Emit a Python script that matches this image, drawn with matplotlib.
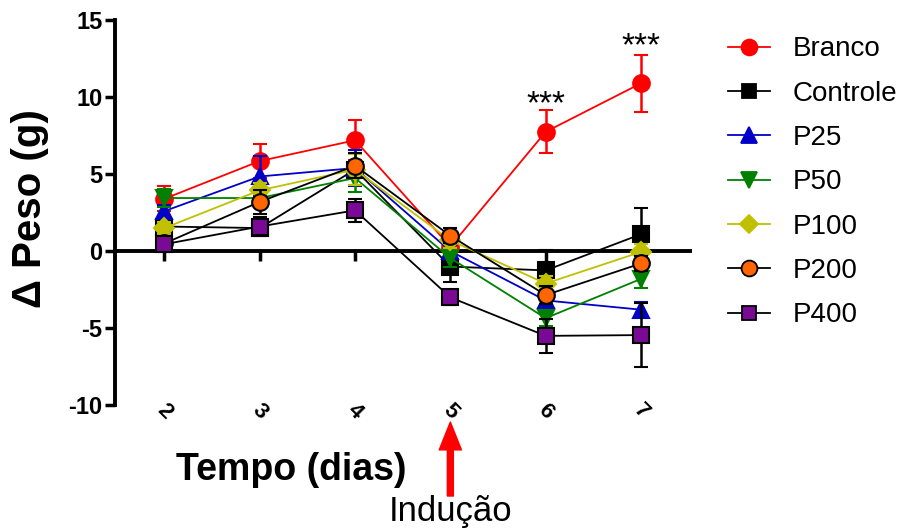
import matplotlib
matplotlib.use("Agg")
import matplotlib.pyplot as plt
from matplotlib.lines import Line2D

plt.rcParams['font.family'] = ['Liberation Sans', 'DejaVu Sans']
plt.rcParams['axes.unicode_minus'] = False

dias = [2, 3, 4, 5, 6, 7]
grupos = ["Branco", "Controle", "P25", "P50", "P100", "P200", "P400"]

branco = [3.4, 5.85, 7.2, 0.3, 7.75, 10.9]
controle = [1.6, 1.5, 5.3, -1.0, -1.25, 1.1]
p25 = [2.6, 4.85, 5.4, 0.0, -3.2, -3.8]
p50 = [3.45, 3.45, 4.75, -0.45, -4.35, -1.8]
p100 = [1.5, 3.95, 5.3, 0.7, -2.1, -0.05]
p200 = [0.5, 3.2, 5.55, 1.0, -2.85, -0.8]
p400 = [0.45, 1.6, 2.65, -3.0, -5.5, -5.45]

err_branco = [0.8, 1.1, 1.3, 0.3, 1.4, 1.85]
err_controle = [0.5, 0.4, 0.5, 1.0, 1.3, 1.7]
err_p25 = [0.4, 1.3, 1.2, 0.4, 0.5, 0.5]
err_p50 = [0.6, 0.5, 0.9, 0.6, 0.5, 0.6]
err_p100 = [0.4, 0.5, 1.0, 0.5, 0.5, 0.5]
err_p200 = [0.5, 0.8, 0.8, 0.5, 0.6, 0.5]
err_p400 = [0.5, 0.6, 0.75, 0.5, 1.1, 2.1]

medias = [branco, controle, p25, p50, p100, p200, p400]
erros = [err_branco, err_controle, err_p25, err_p50, err_p100, err_p200, err_p400]

# estilo de cada grupo: cor da linha, marcador, cor do marcador, borda, tamanho
estilos = [
    ("#FF0000", "o", "#FF0000", "#FF0000", 12),
    ("#000000", "s", "#000000", "#000000", 11),
    ("#0000C8", "^", "#0000C8", "#0000C8", 12),
    ("#008000", "v", "#008000", "#008000", 12),
    ("#C0C000", "D", "#C0C000", "#C0C000", 10),
    ("#000000", "o", "#FF6600", "#000000", 12),
    ("#000000", "s", "#7A0A96", "#000000", 11),
]

fig = plt.figure(figsize=(9.11, 5.31), dpi=100)
ax = fig.add_axes([0.126, 0.237, 0.631, 0.725])

handles = []
for i, nome in enumerate(grupos):
    cor, mk, fc, ec, ms = estilos[i]
    ax.errorbar(dias, medias[i], yerr=erros[i], color=cor, marker=mk,
                markerfacecolor=fc, markeredgecolor=ec, markeredgewidth=1.5,
                markersize=ms, lw=1.3, elinewidth=1.8, capsize=5, capthick=1.8,
                ecolor=cor, zorder=3 + i)
    handles.append(Line2D([], [], color=cor, marker=mk, markerfacecolor=fc,
                          markeredgecolor=ec, markeredgewidth=1.3,
                          markersize=ms * 0.95, lw=1.3, label=nome))

ax.set_xlim(1.48, 7.51)
ax.set_ylim(-10, 15)
ax.set_yticks([-10, -5, 0, 5, 10, 15])
ax.set_xticks(dias)

for s in ["top", "right"]:
    ax.spines[s].set_visible(False)
ax.spines["left"].set_linewidth(2.8)
ax.spines["bottom"].set_linewidth(2.8)
ax.spines["bottom"].set_position(("data", 0))
ax.spines["bottom"].set_zorder(2)

ax.tick_params(axis="y", width=2.5, length=7, labelsize=17, pad=2)
ax.tick_params(axis="x", width=2.5, length=7, labelbottom=False)
for t in ax.get_yticklabels():
    t.set_fontweight("bold")

sec = ax.secondary_xaxis("bottom")
sec.set_xticks(dias)
sec.spines["bottom"].set_visible(False)
sec.tick_params(axis="x", length=0, pad=-4, labelsize=16)
for t in sec.get_xticklabels():
    t.set_rotation(-45)
    t.set_fontweight("bold")
    t.set_ha("center")
    t.set_va("top")

ax.set_ylabel("Δ Peso (g)", fontsize=29, fontweight="bold")
ax.yaxis.set_label_coords(-0.115, 0.51)
fig.text(0.32, 0.115, "Tempo (dias)", fontsize=27, fontweight="bold",
         ha="center", va="center")

ax.text(6, 9.5, "***", fontsize=24, ha="center", va="center")
ax.text(7, 13.3, "***", fontsize=24, ha="center", va="center")

ax.annotate("", xy=(5, -11.1), xytext=(5, -15.9),
            arrowprops=dict(facecolor="#FF0000", edgecolor="#FF0000",
                            width=4.3, headwidth=16, headlength=20),
            annotation_clip=False)
ax.text(5, -16.9, "Indução", fontsize=25, ha="center", va="center",
        clip_on=False)

ax.legend(handles=handles, loc="upper left", bbox_to_anchor=(0.785, 0.955),
          bbox_transform=fig.transFigure, frameon=False, fontsize=20,
          handlelength=1.51, labelspacing=0.66, handletextpad=0.83,
          borderaxespad=0, borderpad=0.45)

fig.savefig("out.png", dpi=100)
